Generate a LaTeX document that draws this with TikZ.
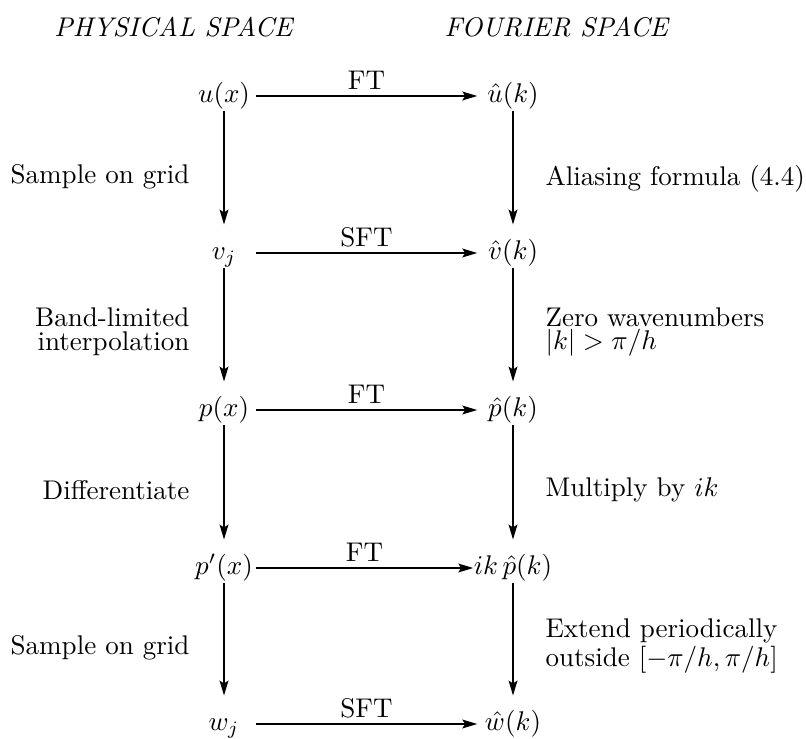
\documentclass[tikz,border=0pt]{standalone}
\usepackage{tikz}
\usetikzlibrary{arrows.meta}

\begin{document}
\begin{tikzpicture}[
    x=0.37pt, y=-0.37pt,
    term/.style={inner sep=0pt, text height=8pt, text depth=3pt,
                 minimum width=23pt},
    termR/.style={term, minimum width=26pt},
    flow/.style={-{Stealth[length=5.5pt, width=3.2pt, inset=1pt]},
                 line width=0.85pt},
    down/.style={flow, shorten >=4.8pt},
    over/.style={above, inner sep=1.8pt},
    lab/.style={inner sep=0pt, font=\fontsize{10}{8.8}\selectfont},
    labL/.style={lab, anchor=east, align=right},
    labR/.style={lab, anchor=west, align=left},
    head/.style={inner sep=0pt, font=\itshape},
]
\useasboundingbox (0,0) rectangle (806,739);

% ---- headings ----
\node[head, anchor=east] (hPhys) at (293,27) {PHYSICAL SPACE};
\node[head, anchor=west] (hFour) at (444,27) {FOURIER SPACE};

% ---- physical space ----
\node[term] (u)  at (224,96)  {$u(x)$};
\node[term] (v)  at (224,253) {$v_j$};
\node[term] (p)  at (224,410) {$p(x)$};
\node[term] (dp) at (224,568) {$p'(x)$};
\node[term] (w)  at (224,724) {$w_j$};

% ---- Fourier space ----
\node[termR] (uh)  at (513,96)  {$\hat u(k)$};
\node[termR] (vh)  at (513,253) {$\hat v(k)$};
\node[termR] (ph)  at (513,410) {$\hat p(k)$};
\node[termR] (dph) at (513,568) {$ik\,\hat p(k)$};
\node[termR] (wh)  at (513,724) {$\hat w(k)$};

% ---- transforms ----
\draw[flow] (u)  -- (uh)  node[over, midway] (t1) {FT};
\draw[flow] (v)  -- (vh)  node[over, midway] (t2) {SFT};
\draw[flow] (p)  -- (ph)  node[over, midway] (t3) {FT};
\draw[flow] (dp) -- (dph) node[over, midway] (t4) {FT};
\draw[flow] (w)  -- (wh)  node[over, midway] (t5) {SFT};

% ---- steps down ----
\draw[down] (u)  -- (v);
\draw[down] (v)  -- (p);
\draw[down] (p)  -- (dp);
\draw[down] (dp) -- (w);
\draw[down] (uh)  -- (vh);
\draw[down] (vh)  -- (ph);
\draw[down] (ph)  -- (dph);
\draw[down] (dph) -- (wh);

% ---- step labels ----
\node[labL] (l1) at (190,177) {Sample on grid};
\node[labL] (l2) at (190,332) {Band-limited\\interpolation};
\node[labL] (l3) at (190,490) {Differentiate};
\node[labL] (l4) at (190,648) {Sample on grid};
\node[labR] (r1) at (545,179) {Aliasing formula (4.4)};
\node[labR] (r2) at (545,332) {Zero wavenumbers\\$|k|>\pi/h$};
\node[labR] (r3) at (545,490) {Multiply by $ik$};
\node[labR] (r4) at (545,646) {Extend periodically\\outside $[-\pi/h,\pi/h]$};
\end{tikzpicture}
\end{document}
